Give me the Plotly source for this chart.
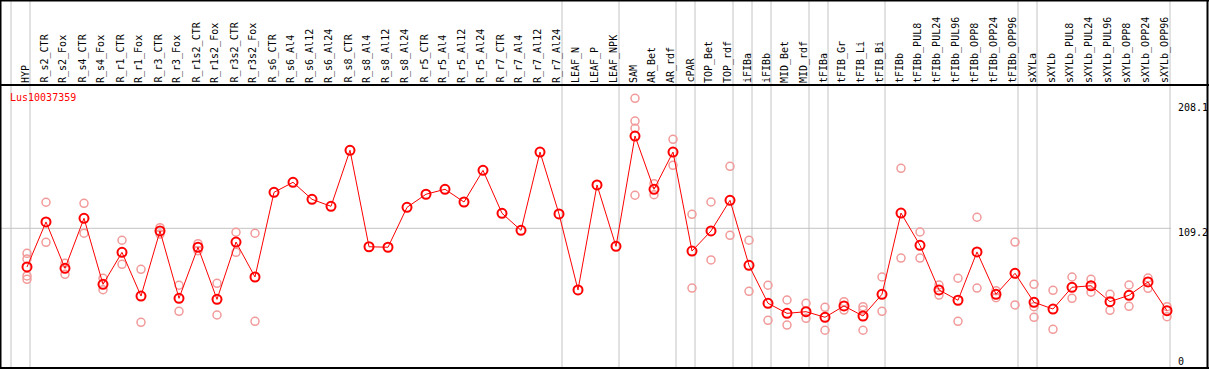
import plotly.graph_objects as go

categories = ["HYP", "R_s2_CTR", "R_s2_Fox", "R_s4_CTR", "R_s4_Fox", "R_r1_CTR", "R_r1_Fox",
              "R_r3_CTR", "R_r3_Fox", "R_r1s2_CTR", "R_r1s2_Fox", "R_r3s2_CTR", "R_r3s2_Fox",
              "R_s6_CTR", "R_s6_Al4", "R_s6_Al12", "R_s6_Al24", "R_s8_CTR", "R_s8_Al4", "R_s8_Al12",
              "R_s8_Al24", "R_r5_CTR", "R_r5_Al4", "R_r5_Al12", "R_r5_Al24", "R_r7_CTR", "R_r7_Al4",
              "R_r7_Al12", "R_r7_Al24", "LEAF_N", "LEAF_P", "LEAF_NPK", "SAM", "AR_Bet", "AR_rdf",
              "cPAR", "TOP_Bet", "TOP_rdf", "iFIBa", "iFIBb", "MID_Bet", "MID_rdf", "tFIBa",
              "tFIB_Gr", "tFIB_Li", "tFIB_Bi", "tFIBb", "tFIBb_PUL8", "tFIBb_PUL24", "tFIBb_PUL96",
              "tFIBb_OPP8", "tFIBb_OPP24", "tFIBb_OPP96", "sXYLa", "sXYLb", "sXYLb_PUL8",
              "sXYLb_PUL24", "sXYLb_PUL96", "sXYLb_OPP8", "sXYLb_OPP24", "sXYLb_OPP96"]

mean_values = [78.8, 114.2, 77.7, 117.1, 65.1, 90.3, 55.9, 107.1, 54.1, 94.3, 53.3, 98.4, 70.9,
               137.5, 145.4, 132.0, 126.5, 170.6, 94.7, 94.3, 125.7, 136.0, 139.9, 129.9, 154.8,
               121.0, 107.6, 169.2, 120.5, 60.7, 143.3, 95.0, 181.8, 139.9, 169.2, 91.3, 107.1,
               131.2, 80.1, 50.2, 42.3, 43.6, 39.2, 48.1, 40.2, 57.3, 121.2, 95.8, 60.7, 52.6,
               90.6, 57.3, 73.8, 51.0, 45.7, 62.8, 64.0, 51.5, 56.5, 67.0, 44.4]

rep_categories = ["HYP", "HYP", "HYP", "HYP",
                  "R_s2_CTR", "R_s2_CTR", "R_s2_Fox", "R_s2_Fox", "R_s4_CTR", "R_s4_CTR",
                  "R_s4_Fox", "R_s4_Fox", "R_r1_CTR", "R_r1_CTR", "R_r1_Fox", "R_r1_Fox",
                  "R_r3_CTR", "R_r3_CTR", "R_r3_Fox", "R_r3_Fox", "R_r1s2_CTR", "R_r1s2_CTR",
                  "R_r1s2_Fox", "R_r1s2_Fox", "R_r3s2_CTR", "R_r3s2_CTR", "R_r3s2_Fox", "R_r3s2_Fox",
                  "SAM", "SAM", "SAM", "SAM", "AR_Bet", "AR_Bet", "AR_rdf", "AR_rdf",
                  "cPAR", "cPAR", "TOP_Bet", "TOP_Bet", "TOP_rdf", "TOP_rdf", "iFIBa", "iFIBa",
                  "iFIBb", "iFIBb", "MID_Bet", "MID_Bet", "MID_rdf", "MID_rdf", "tFIBa", "tFIBa",
                  "tFIB_Gr", "tFIB_Gr", "tFIB_Li", "tFIB_Li", "tFIB_Li", "tFIB_Bi", "tFIB_Bi",
                  "tFIBb", "tFIBb", "tFIBb_PUL8", "tFIBb_PUL8", "tFIBb_PUL24", "tFIBb_PUL24",
                  "tFIBb_PUL96", "tFIBb_PUL96", "tFIBb_OPP8", "tFIBb_OPP8", "tFIBb_OPP24",
                  "tFIBb_OPP24", "tFIBb_OPP96", "tFIBb_OPP96", "sXYLa", "sXYLa", "sXYLa",
                  "sXYLb", "sXYLb", "sXYLb_PUL8", "sXYLb_PUL8", "sXYLb_PUL24", "sXYLb_PUL24",
                  "sXYLb_PUL96", "sXYLb_PUL96", "sXYLb_OPP8", "sXYLb_OPP8", "sXYLb_OPP24",
                  "sXYLb_OPP24", "sXYLb_OPP96", "sXYLb_OPP96"]

rep_values = [89.5, 85.1, 71.7, 69.1,
              129.7, 98.2, 81.7, 73.0, 128.9, 105.3,
              69.9, 60.9, 99.8, 80.9, 76.9, 35.2,
              109.7, 104.7, 64.4, 43.9, 97.1, 91.6,
              65.9, 41.0, 106.1, 90.3, 105.3, 36.0,
              211.5, 193.6, 187.9, 135.2, 144.3, 135.6, 179.2, 158.8,
              120.2, 62.2, 129.9, 84.3, 158.0, 103.7, 99.8, 59.6,
              64.4, 36.8, 52.8, 33.1, 50.2, 38.4, 47.0, 29.0,
              51.5, 44.9, 47.5, 44.9, 29.0, 70.9, 43.9,
              156.4, 85.8, 106.3, 85.8, 64.6, 56.7,
              69.9, 36.0, 117.9, 62.2, 60.1,
              54.6, 98.4, 48.9, 65.1, 47.5, 39.2,
              60.4, 29.7, 70.9, 54.1, 69.1, 58.9,
              57.3, 44.7, 64.6, 47.8, 70.1,
              62.0, 47.5, 39.7]

# index of the last category in each group (a separator follows it)
group_ends = [-1, 0, 28, 31, 34, 35, 37, 38, 39, 41, 42, 45, 52, 53, 60]
y_tick_values = [208.1, 109.2, 0]
y_tick_labels = ["208.1", "109.2", "0"]
gene_name = "Lus10037359"

W, H = 1209, 370
FONT = "DejaVu Sans Mono"
RED = "#ff0000"
PINK = "#f29a9a"
GRAY = "#c4c4c4"

# pixel geometry of the original layout
x_first_px, x_step_px = 27.0, 19.0
y_zero_px, y_px_per_unit = 367.1, 1.271
header_px = 85.0
right_col_px = 1171.0

x_range = [(0 - x_first_px) / x_step_px, (W - x_first_px) / x_step_px]
y_range = [(y_zero_px - H) / y_px_per_unit, y_zero_px / y_px_per_unit]

fig = go.Figure()

fig.add_trace(go.Scatter(
    x=rep_categories, y=rep_values, mode="markers",
    marker=dict(symbol="circle-open", size=8, color=PINK, line=dict(width=1.5, color=PINK)),
    hoverinfo="x+y", showlegend=False))

fig.add_trace(go.Scatter(
    x=categories, y=mean_values, mode="lines+markers",
    line=dict(color=RED, width=1),
    marker=dict(symbol="circle-open", size=9, color=RED, line=dict(width=2, color=RED)),
    hoverinfo="x+y", showlegend=False))

shapes = []
sep_off = 3.0 / x_step_px
for g in group_ends:
    shapes.append(dict(type="line", xref="x", yref="paper", x0=g + sep_off, x1=g + sep_off,
                       y0=1 - 368 / H, y1=1, line=dict(color=GRAY, width=1), layer="below"))
shapes.append(dict(type="line", xref="paper", yref="y", x0=0, x1=right_col_px / W,
                   y0=y_tick_values[1], y1=y_tick_values[1],
                   line=dict(color=GRAY, width=1), layer="below"))
# black frame
for y_px in [0.5, header_px, 368]:
    shapes.append(dict(type="line", xref="paper", yref="paper", x0=0, x1=1,
                       y0=1 - y_px / H, y1=1 - y_px / H, line=dict(color="black", width=2)))
for x_px in [0.5, W - 1.5]:
    shapes.append(dict(type="line", xref="paper", yref="paper", x0=x_px / W, x1=x_px / W,
                       y0=1 - 368 / H, y1=1, line=dict(color="black", width=2)))

annotations = []
for i, c in enumerate(categories):
    annotations.append(dict(x=i - 2.0 / x_step_px, y=1 - (header_px - 1) / H, xref="x", yref="paper",
                            text=c, textangle=-90, showarrow=False, xanchor="center", yanchor="bottom",
                            font=dict(family=FONT, size=10, color="black"), borderpad=0))
label_offsets = [4.4, 4.4, -5.4]
for v, t, off in zip(y_tick_values, y_tick_labels, label_offsets):
    annotations.append(dict(x=1177 / W, y=v - off / y_px_per_unit, xref="paper", yref="y", text=t,
                            showarrow=False, xanchor="left", yanchor="middle",
                            font=dict(family=FONT, size=10, color="black"), borderpad=0))
annotations.append(dict(x=9 / W, y=1 - 97 / H, xref="paper", yref="paper", text=gene_name,
                        showarrow=False, xanchor="left", yanchor="middle",
                        font=dict(family=FONT, size=10, color=RED), borderpad=0))

fig.update_layout(
    width=W, height=H,
    margin=dict(l=0, r=0, t=0, b=0),
    paper_bgcolor="white", plot_bgcolor="white",
    xaxis=dict(type="category", categoryorder="array", categoryarray=categories,
               range=x_range, visible=False, fixedrange=True),
    yaxis=dict(range=y_range, visible=False, fixedrange=True),
    shapes=shapes, annotations=annotations,
)

fig.write_html("out.html", config={"displayModeBar": False},
               post_script="document.body.style.margin='0';document.body.style.overflow='hidden';")
